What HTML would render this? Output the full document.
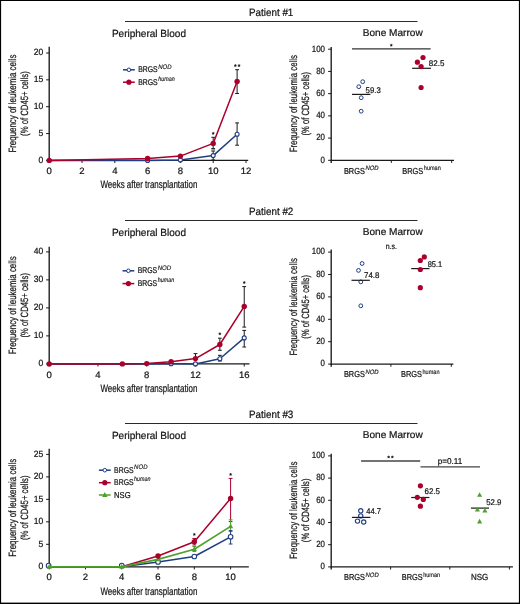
<!DOCTYPE html>
<html><head><meta charset="utf-8"><style>
html,body{margin:0;padding:0;background:#fff;width:520px;height:604px;overflow:hidden}
svg{will-change:transform} svg text{font-family:"Liberation Sans", sans-serif}
</style></head><body>
<svg width="520" height="604" viewBox="0 0 520 604" style="display:block">
<g font-family='"Liberation Sans", sans-serif' text-rendering="geometricPrecision">
<rect x="0" y="0" width="520" height="604" fill="#000"/>
<rect x="1.1" y="1" width="517.8" height="601.6" fill="#fff"/>
<text x="271.2" y="15.6" font-size="10.7" text-anchor="middle" textLength="44.3" lengthAdjust="spacingAndGlyphs" fill="#141414" stroke="#141414" stroke-width="0.22" >Patient #1</text>
<line x1="125" y1="21.5" x2="417.5" y2="21.5" stroke="#2a2a2a" stroke-width="1.05"/>
<text x="111.9" y="36.5" font-size="10.4" textLength="74.1" lengthAdjust="spacingAndGlyphs" fill="#141414" stroke="#141414" stroke-width="0.22" >Peripheral Blood</text>
<text x="362.7" y="36.25" font-size="10.0" textLength="60" lengthAdjust="spacingAndGlyphs" fill="#141414" stroke="#141414" stroke-width="0.22" >Bone Marrow</text>
<line x1="49.2" y1="46.8" x2="49.2" y2="161.1" stroke="#1a1a1a" stroke-width="1.35"/>
<line x1="48.5" y1="160.4" x2="248.2" y2="160.4" stroke="#1a1a1a" stroke-width="1.35"/>
<line x1="46.1" y1="160.4" x2="49.2" y2="160.4" stroke="#1a1a1a" stroke-width="1.0"/>
<text x="43.3" y="162.70000000000002" font-size="9.1" text-anchor="end" textLength="4.75" lengthAdjust="spacingAndGlyphs" fill="#141414" stroke="#141414" stroke-width="0.22" >0</text>
<line x1="46.1" y1="133.55" x2="49.2" y2="133.55" stroke="#1a1a1a" stroke-width="1.0"/>
<text x="43.3" y="135.85000000000002" font-size="9.1" text-anchor="end" textLength="4.75" lengthAdjust="spacingAndGlyphs" fill="#141414" stroke="#141414" stroke-width="0.22" >5</text>
<line x1="46.1" y1="106.7" x2="49.2" y2="106.7" stroke="#1a1a1a" stroke-width="1.0"/>
<text x="43.3" y="109.0" font-size="9.1" text-anchor="end" textLength="9.5" lengthAdjust="spacingAndGlyphs" fill="#141414" stroke="#141414" stroke-width="0.22" >10</text>
<line x1="46.1" y1="79.85000000000001" x2="49.2" y2="79.85000000000001" stroke="#1a1a1a" stroke-width="1.0"/>
<text x="43.3" y="82.15" font-size="9.1" text-anchor="end" textLength="9.5" lengthAdjust="spacingAndGlyphs" fill="#141414" stroke="#141414" stroke-width="0.22" >15</text>
<line x1="46.1" y1="53.0" x2="49.2" y2="53.0" stroke="#1a1a1a" stroke-width="1.0"/>
<text x="43.3" y="55.3" font-size="9.1" text-anchor="end" textLength="9.5" lengthAdjust="spacingAndGlyphs" fill="#141414" stroke="#141414" stroke-width="0.22" >20</text>
<line x1="49.2" y1="160.4" x2="49.2" y2="163.0" stroke="#1a1a1a" stroke-width="1.0"/>
<text x="49.2" y="174.0" font-size="9.3" text-anchor="middle" textLength="5.3" lengthAdjust="spacingAndGlyphs" fill="#141414" stroke="#141414" stroke-width="0.22" >0</text>
<line x1="82.0" y1="160.4" x2="82.0" y2="163.0" stroke="#1a1a1a" stroke-width="1.0"/>
<text x="82.0" y="174.0" font-size="9.3" text-anchor="middle" textLength="5.3" lengthAdjust="spacingAndGlyphs" fill="#141414" stroke="#141414" stroke-width="0.22" >2</text>
<line x1="114.8" y1="160.4" x2="114.8" y2="163.0" stroke="#1a1a1a" stroke-width="1.0"/>
<text x="114.8" y="174.0" font-size="9.3" text-anchor="middle" textLength="5.3" lengthAdjust="spacingAndGlyphs" fill="#141414" stroke="#141414" stroke-width="0.22" >4</text>
<line x1="147.6" y1="160.4" x2="147.6" y2="163.0" stroke="#1a1a1a" stroke-width="1.0"/>
<text x="147.6" y="174.0" font-size="9.3" text-anchor="middle" textLength="5.3" lengthAdjust="spacingAndGlyphs" fill="#141414" stroke="#141414" stroke-width="0.22" >6</text>
<line x1="180.39999999999998" y1="160.4" x2="180.39999999999998" y2="163.0" stroke="#1a1a1a" stroke-width="1.0"/>
<text x="180.39999999999998" y="174.0" font-size="9.3" text-anchor="middle" textLength="5.3" lengthAdjust="spacingAndGlyphs" fill="#141414" stroke="#141414" stroke-width="0.22" >8</text>
<line x1="213.2" y1="160.4" x2="213.2" y2="163.0" stroke="#1a1a1a" stroke-width="1.0"/>
<text x="213.2" y="174.0" font-size="9.3" text-anchor="middle" textLength="10.6" lengthAdjust="spacingAndGlyphs" fill="#141414" stroke="#141414" stroke-width="0.22" >10</text>
<line x1="246.0" y1="160.4" x2="246.0" y2="163.0" stroke="#1a1a1a" stroke-width="1.0"/>
<text x="246.0" y="174.0" font-size="9.3" text-anchor="middle" textLength="10.6" lengthAdjust="spacingAndGlyphs" fill="#141414" stroke="#141414" stroke-width="0.22" >12</text>
<text x="148.9" y="188.1" font-size="10.9" text-anchor="middle" textLength="97" lengthAdjust="spacingAndGlyphs" fill="#141414" stroke="#141414" stroke-width="0.22" >Weeks after transplantation</text>
<text x="15.7" y="103.6" font-size="10.6" text-anchor="middle" textLength="98" lengthAdjust="spacingAndGlyphs" fill="#141414" stroke="#141414" stroke-width="0.22" transform="rotate(-90 15.7 103.6)">Frequency of leukemia cells</text>
<text x="27.6" y="103.6" font-size="10.5" text-anchor="middle" textLength="64.6" lengthAdjust="spacingAndGlyphs" fill="#141414" stroke="#141414" stroke-width="0.22" transform="rotate(-90 27.6 103.6)">(% of CD45+ cells)</text>
<line x1="213.2" y1="137.3" x2="213.2" y2="148.6" stroke="#1a1a1a" stroke-width="1.0"/>
<line x1="211.29999999999998" y1="137.3" x2="215.1" y2="137.3" stroke="#1a1a1a" stroke-width="1.0"/>
<line x1="211.29999999999998" y1="148.6" x2="215.1" y2="148.6" stroke="#1a1a1a" stroke-width="1.0"/>
<line x1="213.2" y1="151.0" x2="213.2" y2="160.0" stroke="#1a1a1a" stroke-width="1.0"/>
<line x1="211.29999999999998" y1="151.0" x2="215.1" y2="151.0" stroke="#1a1a1a" stroke-width="1.0"/>
<line x1="211.29999999999998" y1="160.0" x2="215.1" y2="160.0" stroke="#1a1a1a" stroke-width="1.0"/>
<line x1="211.29999999999998" y1="149.8" x2="215.1" y2="149.8" stroke="#666" stroke-width="0.8"/>
<line x1="237.1" y1="69.7" x2="237.1" y2="93.5" stroke="#1a1a1a" stroke-width="1.0"/>
<line x1="235.2" y1="69.7" x2="239.0" y2="69.7" stroke="#1a1a1a" stroke-width="1.0"/>
<line x1="235.2" y1="93.5" x2="239.0" y2="93.5" stroke="#1a1a1a" stroke-width="1.0"/>
<line x1="237.1" y1="122.9" x2="237.1" y2="145.2" stroke="#1a1a1a" stroke-width="1.0"/>
<line x1="235.2" y1="122.9" x2="239.0" y2="122.9" stroke="#1a1a1a" stroke-width="1.0"/>
<line x1="235.2" y1="145.2" x2="239.0" y2="145.2" stroke="#1a1a1a" stroke-width="1.0"/>
<polyline points="49.20,160.40 147.60,160.40 180.40,159.90 213.20,155.60 237.10,134.20" fill="none" stroke="#1e3e80" stroke-width="1.5" stroke-linejoin="round"/>
<polyline points="49.20,160.40 147.60,158.50 180.40,156.10 213.20,143.40 237.10,81.50" fill="none" stroke="#aa002b" stroke-width="1.5" stroke-linejoin="round"/>
<circle cx="147.60" cy="160.40" r="2.0" fill="#fff" stroke="#1e3e80" stroke-width="1.1"/>
<circle cx="180.40" cy="159.90" r="2.0" fill="#fff" stroke="#1e3e80" stroke-width="1.1"/>
<circle cx="213.20" cy="155.60" r="2.0" fill="#fff" stroke="#1e3e80" stroke-width="1.1"/>
<circle cx="237.10" cy="134.20" r="2.0" fill="#fff" stroke="#1e3e80" stroke-width="1.1"/>
<circle cx="49.20" cy="160.40" r="2.7" fill="#aa002b"/>
<circle cx="147.60" cy="158.50" r="2.7" fill="#aa002b"/>
<circle cx="180.40" cy="156.10" r="2.7" fill="#aa002b"/>
<circle cx="213.20" cy="143.40" r="2.7" fill="#aa002b"/>
<circle cx="237.10" cy="81.50" r="2.7" fill="#aa002b"/>
<polygon points="213.20,131.95 213.60,132.75 214.48,132.88 213.84,133.51 213.99,134.39 213.20,133.98 212.41,134.39 212.56,133.51 211.92,132.88 212.80,132.75" fill="#141414" stroke="#141414" stroke-width="0.35" stroke-linejoin="round"/>
<polygon points="235.35,64.25 235.75,65.05 236.63,65.18 235.99,65.81 236.14,66.69 235.35,66.27 234.56,66.69 234.71,65.81 234.07,65.18 234.95,65.05" fill="#141414" stroke="#141414" stroke-width="0.35" stroke-linejoin="round"/>
<polygon points="239.05,64.25 239.45,65.05 240.33,65.18 239.69,65.81 239.84,66.69 239.05,66.27 238.26,66.69 238.41,65.81 237.77,65.18 238.65,65.05" fill="#141414" stroke="#141414" stroke-width="0.35" stroke-linejoin="round"/>
<line x1="123" y1="69.8" x2="134.8" y2="69.8" stroke="#1e3e80" stroke-width="1.5"/>
<circle cx="128.90" cy="69.80" r="1.8" fill="#fff" stroke="#1e3e80" stroke-width="1.0"/>
<line x1="123" y1="82.2" x2="134.8" y2="82.2" stroke="#aa002b" stroke-width="1.5"/>
<circle cx="128.90" cy="82.20" r="2.6" fill="#aa002b"/>
<text x="138.2" y="72.1" font-size="8.4" textLength="19.5" lengthAdjust="spacingAndGlyphs" fill="#141414" stroke="#141414" stroke-width="0.22" >BRGS</text>
<text x="158.2" y="68.5" font-size="6.6" textLength="13.4" lengthAdjust="spacingAndGlyphs" fill="#141414" stroke="#141414" stroke-width="0.14"  font-style="italic">NOD</text>
<text x="138.2" y="84.5" font-size="8.4" textLength="19.5" lengthAdjust="spacingAndGlyphs" fill="#141414" stroke="#141414" stroke-width="0.22" >BRGS</text>
<text x="158.2" y="80.9" font-size="6.6" textLength="16.5" lengthAdjust="spacingAndGlyphs" fill="#141414" stroke="#141414" stroke-width="0.14"  font-style="italic">human</text>
<line x1="331.2" y1="47.0" x2="331.2" y2="162.9" stroke="#1a1a1a" stroke-width="1.35"/>
<line x1="330.5" y1="160.3" x2="454.0" y2="160.3" stroke="#1a1a1a" stroke-width="1.35"/>
<line x1="328.09999999999997" y1="160.3" x2="331.2" y2="160.3" stroke="#1a1a1a" stroke-width="1.0"/>
<text x="325.0" y="162.60000000000002" font-size="9.05" text-anchor="end" textLength="4.4" lengthAdjust="spacingAndGlyphs" fill="#141414" stroke="#141414" stroke-width="0.22" >0</text>
<line x1="328.09999999999997" y1="138.08" x2="331.2" y2="138.08" stroke="#1a1a1a" stroke-width="1.0"/>
<text x="325.0" y="140.38000000000002" font-size="9.05" text-anchor="end" textLength="8.8" lengthAdjust="spacingAndGlyphs" fill="#141414" stroke="#141414" stroke-width="0.22" >20</text>
<line x1="328.09999999999997" y1="115.86000000000001" x2="331.2" y2="115.86000000000001" stroke="#1a1a1a" stroke-width="1.0"/>
<text x="325.0" y="118.16000000000001" font-size="9.05" text-anchor="end" textLength="8.8" lengthAdjust="spacingAndGlyphs" fill="#141414" stroke="#141414" stroke-width="0.22" >40</text>
<line x1="328.09999999999997" y1="93.64000000000001" x2="331.2" y2="93.64000000000001" stroke="#1a1a1a" stroke-width="1.0"/>
<text x="325.0" y="95.94000000000001" font-size="9.05" text-anchor="end" textLength="8.8" lengthAdjust="spacingAndGlyphs" fill="#141414" stroke="#141414" stroke-width="0.22" >60</text>
<line x1="328.09999999999997" y1="71.42000000000002" x2="331.2" y2="71.42000000000002" stroke="#1a1a1a" stroke-width="1.0"/>
<text x="325.0" y="73.72000000000001" font-size="9.05" text-anchor="end" textLength="8.8" lengthAdjust="spacingAndGlyphs" fill="#141414" stroke="#141414" stroke-width="0.22" >80</text>
<line x1="328.09999999999997" y1="49.20000000000002" x2="331.2" y2="49.20000000000002" stroke="#1a1a1a" stroke-width="1.0"/>
<text x="325.0" y="51.500000000000014" font-size="9.05" text-anchor="end" textLength="13.200000000000001" lengthAdjust="spacingAndGlyphs" fill="#141414" stroke="#141414" stroke-width="0.22" >100</text>
<line x1="391.3" y1="160.3" x2="391.3" y2="162.9" stroke="#1a1a1a" stroke-width="1.0"/>
<line x1="451.7" y1="160.3" x2="451.7" y2="162.9" stroke="#1a1a1a" stroke-width="1.0"/>
<text x="297.2" y="103.65" font-size="10.6" text-anchor="middle" textLength="97.4" lengthAdjust="spacingAndGlyphs" fill="#141414" stroke="#141414" stroke-width="0.22" transform="rotate(-90 297.2 103.65)">Frequency of leukemia cells</text>
<text x="309.2" y="103.65" font-size="10.5" text-anchor="middle" textLength="63.6" lengthAdjust="spacingAndGlyphs" fill="#141414" stroke="#141414" stroke-width="0.22" transform="rotate(-90 309.2 103.65)">(% of CD45+ cells)</text>
<line x1="352" y1="48.9" x2="430.6" y2="48.9" stroke="#333" stroke-width="1.3"/>
<polygon points="391.30,43.85 391.70,44.65 392.58,44.78 391.94,45.41 392.09,46.29 391.30,45.88 390.51,46.29 390.66,45.41 390.02,44.78 390.90,44.65" fill="#141414" stroke="#141414" stroke-width="0.35" stroke-linejoin="round"/>
<circle cx="362.70" cy="81.70" r="1.9" fill="#fff" stroke="#1e3e80" stroke-width="1.0"/>
<circle cx="358.80" cy="86.70" r="1.9" fill="#fff" stroke="#1e3e80" stroke-width="1.0"/>
<circle cx="361.20" cy="97.70" r="1.9" fill="#fff" stroke="#1e3e80" stroke-width="1.0"/>
<circle cx="361.20" cy="111.20" r="1.9" fill="#fff" stroke="#1e3e80" stroke-width="1.0"/>
<line x1="352" y1="94.4" x2="370.4" y2="94.4" stroke="#1a1a1a" stroke-width="1.2"/>
<text x="365.6" y="92.6" font-size="8.2" textLength="15.2" lengthAdjust="spacingAndGlyphs" fill="#141414" stroke="#141414" stroke-width="0.22" >59.3</text>
<line x1="412.1" y1="68.3" x2="430.9" y2="68.3" stroke="#1a1a1a" stroke-width="1.2"/>
<circle cx="423.00" cy="57.50" r="2.6" fill="#aa002b"/>
<circle cx="417.40" cy="62.20" r="2.6" fill="#aa002b"/>
<circle cx="421.10" cy="66.60" r="2.6" fill="#aa002b"/>
<circle cx="421.10" cy="87.50" r="2.6" fill="#aa002b"/>
<text x="428.8" y="65.6" font-size="8.2" textLength="15.6" lengthAdjust="spacingAndGlyphs" fill="#141414" stroke="#141414" stroke-width="0.22" >82.5</text>
<text x="343.9" y="173.8" font-size="8.7" textLength="21.0" lengthAdjust="spacingAndGlyphs" fill="#141414" stroke="#141414" stroke-width="0.22" >BRGS</text>
<text x="365.4" y="170.20000000000002" font-size="6.3" textLength="13.2" lengthAdjust="spacingAndGlyphs" fill="#141414" stroke="#141414" stroke-width="0.14"  font-style="italic">NOD</text>
<text x="402.3" y="173.8" font-size="8.7" textLength="21.0" lengthAdjust="spacingAndGlyphs" fill="#141414" stroke="#141414" stroke-width="0.22" >BRGS</text>
<text x="423.8" y="170.20000000000002" font-size="6.3" textLength="17.0" lengthAdjust="spacingAndGlyphs" fill="#141414" stroke="#141414" stroke-width="0.14" >human</text>
<text x="271.2" y="214.6" font-size="10.7" text-anchor="middle" textLength="44.3" lengthAdjust="spacingAndGlyphs" fill="#141414" stroke="#141414" stroke-width="0.22" >Patient #2</text>
<line x1="125" y1="220.5" x2="417.5" y2="220.5" stroke="#2a2a2a" stroke-width="1.05"/>
<text x="111.9" y="235.5" font-size="10.4" textLength="74.1" lengthAdjust="spacingAndGlyphs" fill="#141414" stroke="#141414" stroke-width="0.22" >Peripheral Blood</text>
<text x="362.7" y="235.25" font-size="10.0" textLength="60" lengthAdjust="spacingAndGlyphs" fill="#141414" stroke="#141414" stroke-width="0.22" >Bone Marrow</text>
<line x1="49.2" y1="246.7" x2="49.2" y2="364.59999999999997" stroke="#1a1a1a" stroke-width="1.35"/>
<line x1="48.5" y1="363.9" x2="249.5" y2="363.9" stroke="#1a1a1a" stroke-width="1.35"/>
<line x1="46.1" y1="363.9" x2="49.2" y2="363.9" stroke="#1a1a1a" stroke-width="1.0"/>
<text x="43.3" y="366.2" font-size="9.1" text-anchor="end" textLength="4.75" lengthAdjust="spacingAndGlyphs" fill="#141414" stroke="#141414" stroke-width="0.22" >0</text>
<line x1="46.1" y1="335.9" x2="49.2" y2="335.9" stroke="#1a1a1a" stroke-width="1.0"/>
<text x="43.3" y="338.2" font-size="9.1" text-anchor="end" textLength="9.5" lengthAdjust="spacingAndGlyphs" fill="#141414" stroke="#141414" stroke-width="0.22" >10</text>
<line x1="46.1" y1="307.9" x2="49.2" y2="307.9" stroke="#1a1a1a" stroke-width="1.0"/>
<text x="43.3" y="310.2" font-size="9.1" text-anchor="end" textLength="9.5" lengthAdjust="spacingAndGlyphs" fill="#141414" stroke="#141414" stroke-width="0.22" >20</text>
<line x1="46.1" y1="279.9" x2="49.2" y2="279.9" stroke="#1a1a1a" stroke-width="1.0"/>
<text x="43.3" y="282.2" font-size="9.1" text-anchor="end" textLength="9.5" lengthAdjust="spacingAndGlyphs" fill="#141414" stroke="#141414" stroke-width="0.22" >30</text>
<line x1="46.1" y1="251.89999999999998" x2="49.2" y2="251.89999999999998" stroke="#1a1a1a" stroke-width="1.0"/>
<text x="43.3" y="254.2" font-size="9.1" text-anchor="end" textLength="9.5" lengthAdjust="spacingAndGlyphs" fill="#141414" stroke="#141414" stroke-width="0.22" >40</text>
<line x1="49.2" y1="363.9" x2="49.2" y2="366.5" stroke="#1a1a1a" stroke-width="1.0"/>
<text x="49.2" y="377.5" font-size="9.3" text-anchor="middle" textLength="5.3" lengthAdjust="spacingAndGlyphs" fill="#141414" stroke="#141414" stroke-width="0.22" >0</text>
<line x1="97.96000000000001" y1="363.9" x2="97.96000000000001" y2="366.5" stroke="#1a1a1a" stroke-width="1.0"/>
<text x="97.96000000000001" y="377.5" font-size="9.3" text-anchor="middle" textLength="5.3" lengthAdjust="spacingAndGlyphs" fill="#141414" stroke="#141414" stroke-width="0.22" >4</text>
<line x1="146.72" y1="363.9" x2="146.72" y2="366.5" stroke="#1a1a1a" stroke-width="1.0"/>
<text x="146.72" y="377.5" font-size="9.3" text-anchor="middle" textLength="5.3" lengthAdjust="spacingAndGlyphs" fill="#141414" stroke="#141414" stroke-width="0.22" >8</text>
<line x1="195.48000000000002" y1="363.9" x2="195.48000000000002" y2="366.5" stroke="#1a1a1a" stroke-width="1.0"/>
<text x="195.48000000000002" y="377.5" font-size="9.3" text-anchor="middle" textLength="10.6" lengthAdjust="spacingAndGlyphs" fill="#141414" stroke="#141414" stroke-width="0.22" >12</text>
<line x1="244.24" y1="363.9" x2="244.24" y2="366.5" stroke="#1a1a1a" stroke-width="1.0"/>
<text x="244.24" y="377.5" font-size="9.3" text-anchor="middle" textLength="10.6" lengthAdjust="spacingAndGlyphs" fill="#141414" stroke="#141414" stroke-width="0.22" >16</text>
<text x="148.9" y="391.59999999999997" font-size="10.9" text-anchor="middle" textLength="97" lengthAdjust="spacingAndGlyphs" fill="#141414" stroke="#141414" stroke-width="0.22" >Weeks after transplantation</text>
<text x="15.7" y="305.29999999999995" font-size="10.6" text-anchor="middle" textLength="98" lengthAdjust="spacingAndGlyphs" fill="#141414" stroke="#141414" stroke-width="0.22" transform="rotate(-90 15.7 305.29999999999995)">Frequency of leukemia cells</text>
<text x="27.6" y="305.29999999999995" font-size="10.5" text-anchor="middle" textLength="64.6" lengthAdjust="spacingAndGlyphs" fill="#141414" stroke="#141414" stroke-width="0.22" transform="rotate(-90 27.6 305.29999999999995)">(% of CD45+ cells)</text>
<line x1="195.48000000000002" y1="353.6" x2="195.48000000000002" y2="358.6" stroke="#1a1a1a" stroke-width="1.0"/>
<line x1="193.58" y1="353.6" x2="197.38000000000002" y2="353.6" stroke="#1a1a1a" stroke-width="1.0"/>
<line x1="193.58" y1="358.6" x2="197.38000000000002" y2="358.6" stroke="#1a1a1a" stroke-width="1.0"/>
<line x1="219.86" y1="338.2" x2="219.86" y2="350.3" stroke="#1a1a1a" stroke-width="1.0"/>
<line x1="217.96" y1="338.2" x2="221.76000000000002" y2="338.2" stroke="#1a1a1a" stroke-width="1.0"/>
<line x1="217.96" y1="350.3" x2="221.76000000000002" y2="350.3" stroke="#1a1a1a" stroke-width="1.0"/>
<line x1="219.86" y1="355.3" x2="219.86" y2="361.0" stroke="#1a1a1a" stroke-width="1.0"/>
<line x1="217.96" y1="355.3" x2="221.76000000000002" y2="355.3" stroke="#1a1a1a" stroke-width="1.0"/>
<line x1="217.96" y1="361.0" x2="221.76000000000002" y2="361.0" stroke="#1a1a1a" stroke-width="1.0"/>
<line x1="244.24" y1="286.6" x2="244.24" y2="327.1" stroke="#1a1a1a" stroke-width="1.0"/>
<line x1="242.34" y1="286.6" x2="246.14000000000001" y2="286.6" stroke="#1a1a1a" stroke-width="1.0"/>
<line x1="242.34" y1="327.1" x2="246.14000000000001" y2="327.1" stroke="#1a1a1a" stroke-width="1.0"/>
<line x1="244.24" y1="330.4" x2="244.24" y2="347.0" stroke="#1a1a1a" stroke-width="1.0"/>
<line x1="242.34" y1="330.4" x2="246.14000000000001" y2="330.4" stroke="#1a1a1a" stroke-width="1.0"/>
<line x1="242.34" y1="347.0" x2="246.14000000000001" y2="347.0" stroke="#1a1a1a" stroke-width="1.0"/>
<polyline points="49.20,363.90 122.34,363.90 146.72,363.90 171.10,363.70 195.48,363.90 219.86,358.80 244.24,337.90" fill="none" stroke="#1e3e80" stroke-width="1.5" stroke-linejoin="round"/>
<polyline points="49.20,363.90 122.34,363.90 146.72,363.60 171.10,361.70 195.48,358.60 219.86,344.50 244.24,306.40" fill="none" stroke="#aa002b" stroke-width="1.5" stroke-linejoin="round"/>
<circle cx="171.10" cy="363.70" r="2.0" fill="#fff" stroke="#1e3e80" stroke-width="1.1"/>
<circle cx="195.48" cy="363.90" r="2.0" fill="#fff" stroke="#1e3e80" stroke-width="1.1"/>
<circle cx="219.86" cy="358.80" r="2.0" fill="#fff" stroke="#1e3e80" stroke-width="1.1"/>
<circle cx="244.24" cy="337.90" r="2.0" fill="#fff" stroke="#1e3e80" stroke-width="1.1"/>
<circle cx="49.20" cy="363.90" r="2.7" fill="#aa002b"/>
<circle cx="122.34" cy="363.90" r="2.7" fill="#aa002b"/>
<circle cx="146.72" cy="363.60" r="2.7" fill="#aa002b"/>
<circle cx="171.10" cy="361.70" r="2.7" fill="#aa002b"/>
<circle cx="195.48" cy="358.60" r="2.7" fill="#aa002b"/>
<circle cx="219.86" cy="344.50" r="2.7" fill="#aa002b"/>
<circle cx="244.24" cy="306.40" r="2.7" fill="#aa002b"/>
<polygon points="219.86,332.45 220.26,333.25 221.14,333.38 220.50,334.01 220.65,334.89 219.86,334.48 219.07,334.89 219.22,334.01 218.58,333.38 219.46,333.25" fill="#141414" stroke="#141414" stroke-width="0.35" stroke-linejoin="round"/>
<polygon points="244.24,281.15 244.64,281.95 245.52,282.08 244.88,282.71 245.03,283.59 244.24,283.18 243.45,283.59 243.60,282.71 242.96,282.08 243.84,281.95" fill="#141414" stroke="#141414" stroke-width="0.35" stroke-linejoin="round"/>
<line x1="122.5" y1="270.8" x2="134.3" y2="270.8" stroke="#1e3e80" stroke-width="1.5"/>
<circle cx="128.40" cy="270.80" r="1.8" fill="#fff" stroke="#1e3e80" stroke-width="1.0"/>
<line x1="122.5" y1="283.6" x2="134.3" y2="283.6" stroke="#aa002b" stroke-width="1.5"/>
<circle cx="128.40" cy="283.60" r="2.6" fill="#aa002b"/>
<text x="137.7" y="273.1" font-size="8.4" textLength="19.5" lengthAdjust="spacingAndGlyphs" fill="#141414" stroke="#141414" stroke-width="0.22" >BRGS</text>
<text x="157.7" y="269.5" font-size="6.6" textLength="13.4" lengthAdjust="spacingAndGlyphs" fill="#141414" stroke="#141414" stroke-width="0.14"  font-style="italic">NOD</text>
<text x="137.7" y="285.90000000000003" font-size="8.4" textLength="19.5" lengthAdjust="spacingAndGlyphs" fill="#141414" stroke="#141414" stroke-width="0.22" >BRGS</text>
<text x="157.7" y="282.3" font-size="6.6" textLength="16.5" lengthAdjust="spacingAndGlyphs" fill="#141414" stroke="#141414" stroke-width="0.14"  font-style="italic">human</text>
<line x1="331.2" y1="249.6" x2="331.2" y2="366.70000000000005" stroke="#1a1a1a" stroke-width="1.35"/>
<line x1="330.5" y1="364.1" x2="453.4" y2="364.1" stroke="#1a1a1a" stroke-width="1.35"/>
<line x1="328.09999999999997" y1="364.1" x2="331.2" y2="364.1" stroke="#1a1a1a" stroke-width="1.0"/>
<text x="325.0" y="366.40000000000003" font-size="9.05" text-anchor="end" textLength="4.4" lengthAdjust="spacingAndGlyphs" fill="#141414" stroke="#141414" stroke-width="0.22" >0</text>
<line x1="328.09999999999997" y1="341.70000000000005" x2="331.2" y2="341.70000000000005" stroke="#1a1a1a" stroke-width="1.0"/>
<text x="325.0" y="344.00000000000006" font-size="9.05" text-anchor="end" textLength="8.8" lengthAdjust="spacingAndGlyphs" fill="#141414" stroke="#141414" stroke-width="0.22" >20</text>
<line x1="328.09999999999997" y1="319.3" x2="331.2" y2="319.3" stroke="#1a1a1a" stroke-width="1.0"/>
<text x="325.0" y="321.6" font-size="9.05" text-anchor="end" textLength="8.8" lengthAdjust="spacingAndGlyphs" fill="#141414" stroke="#141414" stroke-width="0.22" >40</text>
<line x1="328.09999999999997" y1="296.90000000000003" x2="331.2" y2="296.90000000000003" stroke="#1a1a1a" stroke-width="1.0"/>
<text x="325.0" y="299.20000000000005" font-size="9.05" text-anchor="end" textLength="8.8" lengthAdjust="spacingAndGlyphs" fill="#141414" stroke="#141414" stroke-width="0.22" >60</text>
<line x1="328.09999999999997" y1="274.5" x2="331.2" y2="274.5" stroke="#1a1a1a" stroke-width="1.0"/>
<text x="325.0" y="276.8" font-size="9.05" text-anchor="end" textLength="8.8" lengthAdjust="spacingAndGlyphs" fill="#141414" stroke="#141414" stroke-width="0.22" >80</text>
<line x1="328.09999999999997" y1="252.10000000000002" x2="331.2" y2="252.10000000000002" stroke="#1a1a1a" stroke-width="1.0"/>
<text x="325.0" y="254.40000000000003" font-size="9.05" text-anchor="end" textLength="13.200000000000001" lengthAdjust="spacingAndGlyphs" fill="#141414" stroke="#141414" stroke-width="0.22" >100</text>
<line x1="390.9" y1="364.1" x2="390.9" y2="366.70000000000005" stroke="#1a1a1a" stroke-width="1.0"/>
<line x1="451.3" y1="364.1" x2="451.3" y2="366.70000000000005" stroke="#1a1a1a" stroke-width="1.0"/>
<text x="297.2" y="306.85" font-size="10.6" text-anchor="middle" textLength="97.4" lengthAdjust="spacingAndGlyphs" fill="#141414" stroke="#141414" stroke-width="0.22" transform="rotate(-90 297.2 306.85)">Frequency of leukemia cells</text>
<text x="309.2" y="306.85" font-size="10.5" text-anchor="middle" textLength="63.6" lengthAdjust="spacingAndGlyphs" fill="#141414" stroke="#141414" stroke-width="0.22" transform="rotate(-90 309.2 306.85)">(% of CD45+ cells)</text>
<text x="391.3" y="248.9" font-size="8" text-anchor="middle" textLength="11.3" lengthAdjust="spacingAndGlyphs" fill="#141414" stroke="#141414" stroke-width="0.22" >n.s.</text>
<circle cx="362.10" cy="263.50" r="1.9" fill="#fff" stroke="#1e3e80" stroke-width="1.0"/>
<circle cx="358.50" cy="270.40" r="1.9" fill="#fff" stroke="#1e3e80" stroke-width="1.0"/>
<circle cx="360.80" cy="281.90" r="1.9" fill="#fff" stroke="#1e3e80" stroke-width="1.0"/>
<circle cx="360.80" cy="305.80" r="1.9" fill="#fff" stroke="#1e3e80" stroke-width="1.0"/>
<line x1="351.5" y1="280.3" x2="369.8" y2="280.3" stroke="#1a1a1a" stroke-width="1.2"/>
<text x="364.0" y="277.7" font-size="8.2" textLength="15.4" lengthAdjust="spacingAndGlyphs" fill="#141414" stroke="#141414" stroke-width="0.22" >74.8</text>
<line x1="411.2" y1="268.6" x2="429.5" y2="268.6" stroke="#1a1a1a" stroke-width="1.2"/>
<circle cx="424.30" cy="256.90" r="2.6" fill="#aa002b"/>
<circle cx="420.30" cy="260.50" r="2.6" fill="#aa002b"/>
<circle cx="420.30" cy="269.50" r="2.6" fill="#aa002b"/>
<circle cx="420.30" cy="287.70" r="2.6" fill="#aa002b"/>
<text x="427.7" y="266.9" font-size="8.2" textLength="14.6" lengthAdjust="spacingAndGlyphs" fill="#141414" stroke="#141414" stroke-width="0.22" >85.1</text>
<text x="343.9" y="377.3" font-size="8.7" textLength="21.0" lengthAdjust="spacingAndGlyphs" fill="#141414" stroke="#141414" stroke-width="0.22" >BRGS</text>
<text x="365.4" y="373.7" font-size="6.3" textLength="13.2" lengthAdjust="spacingAndGlyphs" fill="#141414" stroke="#141414" stroke-width="0.14"  font-style="italic">NOD</text>
<text x="401.0" y="377.3" font-size="8.7" textLength="21.0" lengthAdjust="spacingAndGlyphs" fill="#141414" stroke="#141414" stroke-width="0.22" >BRGS</text>
<text x="422.5" y="373.7" font-size="6.3" textLength="17.0" lengthAdjust="spacingAndGlyphs" fill="#141414" stroke="#141414" stroke-width="0.14" >human</text>
<text x="271.2" y="417.6" font-size="10.7" text-anchor="middle" textLength="44.3" lengthAdjust="spacingAndGlyphs" fill="#141414" stroke="#141414" stroke-width="0.22" >Patient #3</text>
<line x1="125" y1="423.5" x2="417.5" y2="423.5" stroke="#2a2a2a" stroke-width="1.05"/>
<text x="111.9" y="438.5" font-size="10.4" textLength="74.1" lengthAdjust="spacingAndGlyphs" fill="#141414" stroke="#141414" stroke-width="0.22" >Peripheral Blood</text>
<text x="362.7" y="438.25" font-size="10.0" textLength="60" lengthAdjust="spacingAndGlyphs" fill="#141414" stroke="#141414" stroke-width="0.22" >Bone Marrow</text>
<line x1="49.2" y1="448.7" x2="49.2" y2="567.5" stroke="#1a1a1a" stroke-width="1.35"/>
<line x1="48.5" y1="566.8" x2="248.8" y2="566.8" stroke="#1a1a1a" stroke-width="1.35"/>
<line x1="46.1" y1="566.8" x2="49.2" y2="566.8" stroke="#1a1a1a" stroke-width="1.0"/>
<text x="43.3" y="569.0999999999999" font-size="9.1" text-anchor="end" textLength="4.75" lengthAdjust="spacingAndGlyphs" fill="#141414" stroke="#141414" stroke-width="0.22" >0</text>
<line x1="46.1" y1="544.3199999999999" x2="49.2" y2="544.3199999999999" stroke="#1a1a1a" stroke-width="1.0"/>
<text x="43.3" y="546.6199999999999" font-size="9.1" text-anchor="end" textLength="4.75" lengthAdjust="spacingAndGlyphs" fill="#141414" stroke="#141414" stroke-width="0.22" >5</text>
<line x1="46.1" y1="521.8399999999999" x2="49.2" y2="521.8399999999999" stroke="#1a1a1a" stroke-width="1.0"/>
<text x="43.3" y="524.1399999999999" font-size="9.1" text-anchor="end" textLength="9.5" lengthAdjust="spacingAndGlyphs" fill="#141414" stroke="#141414" stroke-width="0.22" >10</text>
<line x1="46.1" y1="499.35999999999996" x2="49.2" y2="499.35999999999996" stroke="#1a1a1a" stroke-width="1.0"/>
<text x="43.3" y="501.65999999999997" font-size="9.1" text-anchor="end" textLength="9.5" lengthAdjust="spacingAndGlyphs" fill="#141414" stroke="#141414" stroke-width="0.22" >15</text>
<line x1="46.1" y1="476.87999999999994" x2="49.2" y2="476.87999999999994" stroke="#1a1a1a" stroke-width="1.0"/>
<text x="43.3" y="479.17999999999995" font-size="9.1" text-anchor="end" textLength="9.5" lengthAdjust="spacingAndGlyphs" fill="#141414" stroke="#141414" stroke-width="0.22" >20</text>
<line x1="46.1" y1="454.4" x2="49.2" y2="454.4" stroke="#1a1a1a" stroke-width="1.0"/>
<text x="43.3" y="456.7" font-size="9.1" text-anchor="end" textLength="9.5" lengthAdjust="spacingAndGlyphs" fill="#141414" stroke="#141414" stroke-width="0.22" >25</text>
<line x1="49.2" y1="566.8" x2="49.2" y2="569.4" stroke="#1a1a1a" stroke-width="1.0"/>
<text x="49.2" y="580.4" font-size="9.3" text-anchor="middle" textLength="5.3" lengthAdjust="spacingAndGlyphs" fill="#141414" stroke="#141414" stroke-width="0.22" >0</text>
<line x1="85.48" y1="566.8" x2="85.48" y2="569.4" stroke="#1a1a1a" stroke-width="1.0"/>
<text x="85.48" y="580.4" font-size="9.3" text-anchor="middle" textLength="5.3" lengthAdjust="spacingAndGlyphs" fill="#141414" stroke="#141414" stroke-width="0.22" >2</text>
<line x1="121.76" y1="566.8" x2="121.76" y2="569.4" stroke="#1a1a1a" stroke-width="1.0"/>
<text x="121.76" y="580.4" font-size="9.3" text-anchor="middle" textLength="5.3" lengthAdjust="spacingAndGlyphs" fill="#141414" stroke="#141414" stroke-width="0.22" >4</text>
<line x1="158.04000000000002" y1="566.8" x2="158.04000000000002" y2="569.4" stroke="#1a1a1a" stroke-width="1.0"/>
<text x="158.04000000000002" y="580.4" font-size="9.3" text-anchor="middle" textLength="5.3" lengthAdjust="spacingAndGlyphs" fill="#141414" stroke="#141414" stroke-width="0.22" >6</text>
<line x1="194.32" y1="566.8" x2="194.32" y2="569.4" stroke="#1a1a1a" stroke-width="1.0"/>
<text x="194.32" y="580.4" font-size="9.3" text-anchor="middle" textLength="5.3" lengthAdjust="spacingAndGlyphs" fill="#141414" stroke="#141414" stroke-width="0.22" >8</text>
<line x1="230.60000000000002" y1="566.8" x2="230.60000000000002" y2="569.4" stroke="#1a1a1a" stroke-width="1.0"/>
<text x="230.60000000000002" y="580.4" font-size="9.3" text-anchor="middle" textLength="10.6" lengthAdjust="spacingAndGlyphs" fill="#141414" stroke="#141414" stroke-width="0.22" >10</text>
<text x="148.9" y="594.5" font-size="10.9" text-anchor="middle" textLength="97" lengthAdjust="spacingAndGlyphs" fill="#141414" stroke="#141414" stroke-width="0.22" >Weeks after transplantation</text>
<text x="15.7" y="507.75" font-size="10.6" text-anchor="middle" textLength="98" lengthAdjust="spacingAndGlyphs" fill="#141414" stroke="#141414" stroke-width="0.22" transform="rotate(-90 15.7 507.75)">Frequency of leukemia cells</text>
<text x="27.6" y="507.75" font-size="10.5" text-anchor="middle" textLength="64.6" lengthAdjust="spacingAndGlyphs" fill="#141414" stroke="#141414" stroke-width="0.22" transform="rotate(-90 27.6 507.75)">(% of CD45+ cells)</text>
<line x1="194.32" y1="538.5" x2="194.32" y2="545.0" stroke="#aa002b" stroke-width="1.0"/>
<line x1="192.42" y1="538.5" x2="196.22" y2="538.5" stroke="#aa002b" stroke-width="1.0"/>
<line x1="192.42" y1="545.0" x2="196.22" y2="545.0" stroke="#aa002b" stroke-width="1.0"/>
<line x1="194.32" y1="546.5" x2="194.32" y2="551.5" stroke="#50a02c" stroke-width="1.0"/>
<line x1="192.42" y1="546.5" x2="196.22" y2="546.5" stroke="#50a02c" stroke-width="1.0"/>
<line x1="192.42" y1="551.5" x2="196.22" y2="551.5" stroke="#50a02c" stroke-width="1.0"/>
<line x1="230.60000000000002" y1="478.4" x2="230.60000000000002" y2="521.6" stroke="#aa002b" stroke-width="1.0"/>
<line x1="228.70000000000002" y1="478.4" x2="232.50000000000003" y2="478.4" stroke="#aa002b" stroke-width="1.0"/>
<line x1="228.70000000000002" y1="521.6" x2="232.50000000000003" y2="521.6" stroke="#aa002b" stroke-width="1.0"/>
<line x1="230.60000000000002" y1="519.8" x2="230.60000000000002" y2="531.5" stroke="#50a02c" stroke-width="1.0"/>
<line x1="228.70000000000002" y1="519.8" x2="232.50000000000003" y2="519.8" stroke="#50a02c" stroke-width="1.0"/>
<line x1="228.70000000000002" y1="531.5" x2="232.50000000000003" y2="531.5" stroke="#50a02c" stroke-width="1.0"/>
<line x1="230.60000000000002" y1="530.6" x2="230.60000000000002" y2="544.0" stroke="#1e3e80" stroke-width="1.0"/>
<line x1="228.70000000000002" y1="530.6" x2="232.50000000000003" y2="530.6" stroke="#1e3e80" stroke-width="1.0"/>
<line x1="228.70000000000002" y1="544.0" x2="232.50000000000003" y2="544.0" stroke="#1e3e80" stroke-width="1.0"/>
<polyline points="49.20,566.80 121.76,566.80 158.04,561.90 194.32,556.50 230.60,536.80" fill="none" stroke="#1e3e80" stroke-width="1.5" stroke-linejoin="round"/>
<polyline points="49.20,566.80 121.76,566.80 158.04,556.00 194.32,541.70 230.60,498.50" fill="none" stroke="#aa002b" stroke-width="1.5" stroke-linejoin="round"/>
<circle cx="48.60" cy="565.50" r="2.3" fill="#fff" stroke="#1e3e80" stroke-width="1.1"/>
<circle cx="121.76" cy="565.50" r="2.3" fill="#fff" stroke="#1e3e80" stroke-width="1.1"/>
<circle cx="158.04" cy="561.90" r="2.3" fill="#fff" stroke="#1e3e80" stroke-width="1.1"/>
<circle cx="194.32" cy="556.50" r="2.3" fill="#fff" stroke="#1e3e80" stroke-width="1.1"/>
<circle cx="230.60" cy="536.80" r="2.3" fill="#fff" stroke="#1e3e80" stroke-width="1.1"/>
<polyline points="49.20,566.80 121.76,566.80 158.04,559.40 194.32,549.20 230.60,526.40" fill="none" stroke="#50a02c" stroke-width="1.7" stroke-linejoin="round"/>
<path d="M49.20,563.99 L51.80,568.67 L46.60,568.67Z" fill="#50a02c"/>
<path d="M121.76,563.99 L124.36,568.67 L119.16,568.67Z" fill="#50a02c"/>
<path d="M158.04,556.59 L160.64,561.27 L155.44,561.27Z" fill="#50a02c"/>
<path d="M194.32,546.39 L196.92,551.07 L191.72,551.07Z" fill="#50a02c"/>
<path d="M230.60,523.59 L233.20,528.27 L228.00,528.27Z" fill="#50a02c"/>
<circle cx="158.04" cy="556.00" r="2.7" fill="#aa002b"/>
<circle cx="194.32" cy="541.70" r="2.7" fill="#aa002b"/>
<circle cx="230.60" cy="498.50" r="2.7" fill="#aa002b"/>
<polygon points="194.32,533.05 194.72,533.85 195.60,533.98 194.96,534.61 195.11,535.49 194.32,535.07 193.53,535.49 193.68,534.61 193.04,533.98 193.92,533.85" fill="#141414" stroke="#141414" stroke-width="0.35" stroke-linejoin="round"/>
<polygon points="230.60,473.05 231.00,473.85 231.88,473.98 231.24,474.61 231.39,475.49 230.60,475.07 229.81,475.49 229.96,474.61 229.32,473.98 230.20,473.85" fill="#141414" stroke="#141414" stroke-width="0.35" stroke-linejoin="round"/>
<line x1="98.9" y1="470.2" x2="110.7" y2="470.2" stroke="#1e3e80" stroke-width="1.5"/>
<circle cx="104.80" cy="470.20" r="1.8" fill="#fff" stroke="#1e3e80" stroke-width="1.0"/>
<line x1="98.9" y1="482.7" x2="110.7" y2="482.7" stroke="#aa002b" stroke-width="1.5"/>
<circle cx="104.80" cy="482.70" r="2.6" fill="#aa002b"/>
<text x="114.10000000000001" y="472.5" font-size="8.4" textLength="19.5" lengthAdjust="spacingAndGlyphs" fill="#141414" stroke="#141414" stroke-width="0.22" >BRGS</text>
<text x="134.10000000000002" y="468.9" font-size="6.6" textLength="13.4" lengthAdjust="spacingAndGlyphs" fill="#141414" stroke="#141414" stroke-width="0.14"  font-style="italic">NOD</text>
<text x="114.10000000000001" y="485.0" font-size="8.4" textLength="19.5" lengthAdjust="spacingAndGlyphs" fill="#141414" stroke="#141414" stroke-width="0.22" >BRGS</text>
<text x="134.10000000000002" y="481.4" font-size="6.6" textLength="16.5" lengthAdjust="spacingAndGlyphs" fill="#141414" stroke="#141414" stroke-width="0.14"  font-style="italic">human</text>
<line x1="98.9" y1="495.0" x2="110.7" y2="495.0" stroke="#50a02c" stroke-width="1.5"/>
<path d="M104.80,492.08 L107.50,496.94 L102.10,496.94Z" fill="#50a02c"/>
<text x="114.10000000000001" y="497.5" font-size="8.6" textLength="16.5" lengthAdjust="spacingAndGlyphs" fill="#141414" stroke="#141414" stroke-width="0.22" >NSG</text>
<line x1="331.2" y1="453.8" x2="331.2" y2="569.5" stroke="#1a1a1a" stroke-width="1.35"/>
<line x1="330.5" y1="566.9" x2="512.9" y2="566.9" stroke="#1a1a1a" stroke-width="1.35"/>
<line x1="328.09999999999997" y1="566.9" x2="331.2" y2="566.9" stroke="#1a1a1a" stroke-width="1.0"/>
<text x="325.0" y="569.1999999999999" font-size="9.05" text-anchor="end" textLength="4.4" lengthAdjust="spacingAndGlyphs" fill="#141414" stroke="#141414" stroke-width="0.22" >0</text>
<line x1="328.09999999999997" y1="544.6999999999999" x2="331.2" y2="544.6999999999999" stroke="#1a1a1a" stroke-width="1.0"/>
<text x="325.0" y="546.9999999999999" font-size="9.05" text-anchor="end" textLength="8.8" lengthAdjust="spacingAndGlyphs" fill="#141414" stroke="#141414" stroke-width="0.22" >20</text>
<line x1="328.09999999999997" y1="522.5" x2="331.2" y2="522.5" stroke="#1a1a1a" stroke-width="1.0"/>
<text x="325.0" y="524.8" font-size="9.05" text-anchor="end" textLength="8.8" lengthAdjust="spacingAndGlyphs" fill="#141414" stroke="#141414" stroke-width="0.22" >40</text>
<line x1="328.09999999999997" y1="500.29999999999995" x2="331.2" y2="500.29999999999995" stroke="#1a1a1a" stroke-width="1.0"/>
<text x="325.0" y="502.59999999999997" font-size="9.05" text-anchor="end" textLength="8.8" lengthAdjust="spacingAndGlyphs" fill="#141414" stroke="#141414" stroke-width="0.22" >60</text>
<line x1="328.09999999999997" y1="478.09999999999997" x2="331.2" y2="478.09999999999997" stroke="#1a1a1a" stroke-width="1.0"/>
<text x="325.0" y="480.4" font-size="9.05" text-anchor="end" textLength="8.8" lengthAdjust="spacingAndGlyphs" fill="#141414" stroke="#141414" stroke-width="0.22" >80</text>
<line x1="328.09999999999997" y1="455.9" x2="331.2" y2="455.9" stroke="#1a1a1a" stroke-width="1.0"/>
<text x="325.0" y="458.2" font-size="9.05" text-anchor="end" textLength="13.200000000000001" lengthAdjust="spacingAndGlyphs" fill="#141414" stroke="#141414" stroke-width="0.22" >100</text>
<line x1="390.6" y1="566.9" x2="390.6" y2="569.5" stroke="#1a1a1a" stroke-width="1.0"/>
<line x1="449.8" y1="566.9" x2="449.8" y2="569.5" stroke="#1a1a1a" stroke-width="1.0"/>
<line x1="509.4" y1="566.9" x2="509.4" y2="569.5" stroke="#1a1a1a" stroke-width="1.0"/>
<text x="297.2" y="510.35" font-size="10.6" text-anchor="middle" textLength="97.4" lengthAdjust="spacingAndGlyphs" fill="#141414" stroke="#141414" stroke-width="0.22" transform="rotate(-90 297.2 510.35)">Frequency of leukemia cells</text>
<text x="309.2" y="510.35" font-size="10.5" text-anchor="middle" textLength="63.6" lengthAdjust="spacingAndGlyphs" fill="#141414" stroke="#141414" stroke-width="0.22" transform="rotate(-90 309.2 510.35)">(% of CD45+ cells)</text>
<line x1="361.1" y1="461.0" x2="420.2" y2="461.0" stroke="#444" stroke-width="1.3"/>
<polygon points="388.65,455.65 389.05,456.45 389.93,456.58 389.29,457.21 389.44,458.09 388.65,457.68 387.86,458.09 388.01,457.21 387.37,456.58 388.25,456.45" fill="#141414" stroke="#141414" stroke-width="0.35" stroke-linejoin="round"/>
<polygon points="392.35,455.65 392.75,456.45 393.63,456.58 392.99,457.21 393.14,458.09 392.35,457.68 391.56,458.09 391.71,457.21 391.07,456.58 391.95,456.45" fill="#141414" stroke="#141414" stroke-width="0.35" stroke-linejoin="round"/>
<line x1="420.5" y1="466.9" x2="480.0" y2="466.9" stroke="#444" stroke-width="1.3"/>
<text x="437.7" y="463.9" font-size="8.5" textLength="24.6" lengthAdjust="spacingAndGlyphs" fill="#141414" stroke="#141414" stroke-width="0.22" >p=0.11</text>
<circle cx="360.75" cy="510.80" r="2.15" fill="#fff" stroke="#1e3e80" stroke-width="1.1"/>
<circle cx="360.75" cy="515.90" r="2.15" fill="#fff" stroke="#1e3e80" stroke-width="1.1"/>
<circle cx="357.50" cy="521.10" r="2.15" fill="#fff" stroke="#1e3e80" stroke-width="1.1"/>
<circle cx="363.70" cy="522.00" r="2.15" fill="#fff" stroke="#1e3e80" stroke-width="1.1"/>
<line x1="351.9" y1="517.4" x2="370.4" y2="517.4" stroke="#1a1a1a" stroke-width="1.2"/>
<text x="366.3" y="514.3" font-size="8.2" textLength="14.7" lengthAdjust="spacingAndGlyphs" fill="#141414" stroke="#141414" stroke-width="0.22" >44.7</text>
<line x1="411.2" y1="497.5" x2="429.4" y2="497.5" stroke="#1a1a1a" stroke-width="1.2"/>
<circle cx="420.40" cy="485.80" r="2.6" fill="#aa002b"/>
<circle cx="417.30" cy="497.30" r="2.6" fill="#aa002b"/>
<circle cx="423.30" cy="499.40" r="2.6" fill="#aa002b"/>
<circle cx="420.40" cy="506.20" r="2.6" fill="#aa002b"/>
<text x="424.6" y="494.3" font-size="8.2" textLength="15.4" lengthAdjust="spacingAndGlyphs" fill="#141414" stroke="#141414" stroke-width="0.22" >62.5</text>
<line x1="470.9" y1="508.1" x2="489.0" y2="508.1" stroke="#1a1a1a" stroke-width="1.2"/>
<path d="M479.60,492.15 L482.15,496.74 L477.05,496.74Z" fill="#50a02c"/>
<path d="M477.40,506.85 L479.95,511.44 L474.85,511.44Z" fill="#50a02c"/>
<path d="M484.90,507.85 L487.45,512.44 L482.35,512.44Z" fill="#50a02c"/>
<path d="M479.60,518.85 L482.15,523.44 L477.05,523.44Z" fill="#50a02c"/>
<text x="486.2" y="505.4" font-size="8.2" textLength="15.3" lengthAdjust="spacingAndGlyphs" fill="#141414" stroke="#141414" stroke-width="0.22" >52.9</text>
<text x="344.0" y="580.4" font-size="8.7" textLength="21.0" lengthAdjust="spacingAndGlyphs" fill="#141414" stroke="#141414" stroke-width="0.22" >BRGS</text>
<text x="365.5" y="576.8" font-size="6.3" textLength="13.2" lengthAdjust="spacingAndGlyphs" fill="#141414" stroke="#141414" stroke-width="0.14"  font-style="italic">NOD</text>
<text x="401.7" y="580.4" font-size="8.7" textLength="21.0" lengthAdjust="spacingAndGlyphs" fill="#141414" stroke="#141414" stroke-width="0.22" >BRGS</text>
<text x="423.2" y="576.8" font-size="6.3" textLength="17.0" lengthAdjust="spacingAndGlyphs" fill="#141414" stroke="#141414" stroke-width="0.14" >human</text>
<text x="471.0" y="580.0" font-size="8.8" textLength="17.3" lengthAdjust="spacingAndGlyphs" fill="#141414" stroke="#141414" stroke-width="0.22" >NSG</text>
</g></svg>
</body></html>
